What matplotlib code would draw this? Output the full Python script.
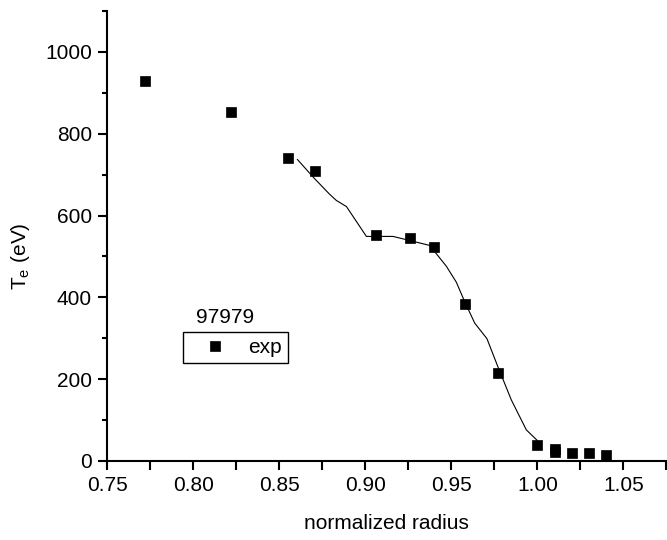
import matplotlib
matplotlib.use("Agg")
import matplotlib.pyplot as plt
from matplotlib.ticker import MultipleLocator

plt.rcParams["font.family"] = ["Liberation Sans", "DejaVu Sans"]

# measured points
radius = [0.772, 0.822, 0.855, 0.871, 0.906, 0.926, 0.940, 0.958, 0.977,
          1.000, 1.010, 1.010, 1.020, 1.030, 1.040]
te_exp = [928, 852, 740, 710, 552, 545, 524, 383, 214,
          38, 30, 21, 19, 19, 14]

# fitted curve
fit_r = [0.8605, 0.8703, 0.8790, 0.8831, 0.8890, 0.9006, 0.9161, 0.9258, 0.9374,
         0.9471, 0.9529, 0.9578, 0.9636, 0.9707, 0.9771, 0.9849, 0.9936, 1.0]
fit_te = [737, 691, 653, 637, 622, 549, 549, 539, 527,
          476, 437, 389, 337, 299, 230, 149, 76, 50]

fig = plt.figure(figsize=(6.67, 5.4), dpi=100)
ax = fig.add_axes([0.161, 0.1463, 0.838, 0.8333])

ax.plot(fit_r, fit_te, color="black", lw=0.8)
ax.plot(radius, te_exp, ls="none", marker="s", ms=7, mew=0.5, color="black", label="exp")

ax.set_xlim(0.75, 1.075)
ax.set_ylim(0, 1100)
ax.xaxis.set_major_locator(MultipleLocator(0.05))
ax.xaxis.set_minor_locator(MultipleLocator(0.025))
ax.yaxis.set_major_locator(MultipleLocator(200))
ax.yaxis.set_minor_locator(MultipleLocator(100))
ax.xaxis.set_major_formatter(plt.FormatStrFormatter("%.2f"))

for s in ["top", "right"]:
    ax.spines[s].set_visible(False)
for s in ["left", "bottom"]:
    ax.spines[s].set_linewidth(1.5)
ax.tick_params(which="major", length=6.5, width=1.5, labelsize=15, direction="out")
ax.tick_params(axis="y", which="major", pad=4.5)
ax.tick_params(axis="x", which="major", pad=4)
ax.tick_params(axis="y", which="minor", length=3.5, width=1.5, direction="out")
ax.tick_params(axis="x", which="minor", length=6.5, width=1.5, direction="out")

ax.set_xlabel("normalized radius", fontsize=15)
ax.xaxis.set_label_coords(0.5, -0.117)
ax.set_ylabel("T$_\\mathregular{e}$ (eV)", fontsize=15)
ax.yaxis.set_label_coords(-0.135, 0.456)

ax.text(0.1583, 0.307, "97979", transform=ax.transAxes, fontsize=15)
leg = ax.legend(loc="lower left", bbox_to_anchor=(0.1356, 0.2171), fontsize=15,
                fancybox=False, edgecolor="black", framealpha=1,
                handlelength=2.44, handletextpad=0.38, borderpad=0.3,
                borderaxespad=0)
leg.get_frame().set_linewidth(1.0)

fig.savefig("out.png", dpi=100)
